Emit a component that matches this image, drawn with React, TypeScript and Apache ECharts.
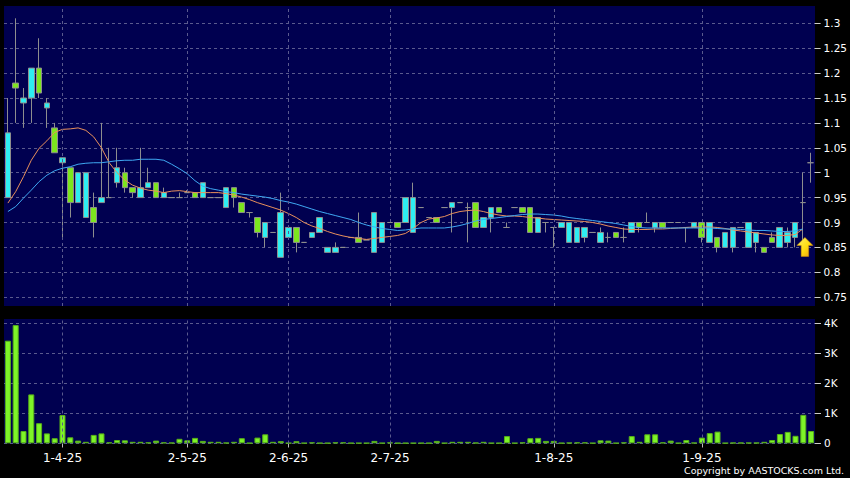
import React, { useEffect, useRef } from 'react';
import * as echarts from 'echarts';

const dates = [
  '21-3-25','24-3-25','25-3-25','26-3-25','27-3-25','28-3-25','31-3-25',
  '1-4-25','2-4-25','3-4-25','7-4-25','8-4-25','9-4-25','10-4-25','11-4-25','14-4-25','15-4-25','16-4-25','17-4-25','22-4-25','23-4-25','24-4-25','25-4-25',
  '2-5-25','6-5-25','7-5-25','8-5-25','9-5-25','12-5-25','13-5-25','14-5-25','16-5-25','19-5-25','21-5-25','23-5-25','27-5-25',
  '2-6-25','3-6-25','4-6-25','5-6-25','6-6-25','9-6-25','11-6-25','13-6-25','16-6-25','18-6-25','20-6-25','24-6-25','27-6-25',
  '2-7-25','3-7-25','4-7-25','7-7-25','8-7-25','9-7-25','10-7-25','11-7-25','14-7-25','15-7-25','16-7-25','17-7-25','18-7-25','21-7-25','22-7-25','23-7-25','24-7-25','25-7-25','28-7-25','29-7-25','30-7-25',
  '1-8-25','4-8-25','5-8-25','6-8-25','7-8-25','8-8-25','11-8-25','12-8-25','13-8-25','14-8-25','15-8-25','18-8-25','19-8-25','20-8-25','21-8-25','22-8-25','26-8-25','27-8-25','28-8-25',
  '1-9-25','2-9-25','3-9-25','4-9-25','5-9-25','8-9-25','9-9-25','10-9-25','11-9-25','12-9-25','15-9-25','16-9-25','17-9-25','18-9-25','19-9-25',
];

const tickLabels = ['1-4-25', '2-5-25', '2-6-25', '2-7-25', '1-8-25', '1-9-25'];

const openPrices = [
  0.95,1.18,1.14,1.15,1.21,1.13,1.09,1.02,1.01,0.94,
  0.91,0.93,0.94,0.95,0.98,1.00,0.97,0.95,0.97,0.98,
  0.95,0.95,0.95,0.96,0.96,0.95,0.95,0.95,0.93,0.97,
  0.94,0.92,0.91,0.87,0.88,0.83,0.87,0.89,0.86,0.87,
  0.88,0.84,0.84,0.85,0.87,0.87,0.865,0.84,0.86,0.90,
  0.90,0.90,0.88,0.93,0.91,0.91,0.93,0.93,0.94,0.93,
  0.94,0.89,0.91,0.93,0.89,0.93,0.93,0.93,0.88,0.90,
  0.89,0.89,0.86,0.86,0.87,0.88,0.86,0.87,0.88,0.87,
  0.88,0.90,0.90,0.89,0.90,0.90,0.90,0.89,0.89,0.90,
  0.86,0.87,0.85,0.85,0.89,0.85,0.86,0.85,0.87,0.85,
  0.86,0.87,0.94,1.02,
];

const closePrices = [
  1.08,1.17,1.15,1.21,1.16,1.14,1.04,1.03,0.94,1.00,
  1.00,0.90,0.95,0.95,1.01,0.97,0.96,0.97,0.98,0.95,
  0.96,0.95,0.95,0.96,0.95,0.98,0.95,0.95,0.97,0.95,
  0.92,0.92,0.88,0.90,0.88,0.92,0.89,0.86,0.86,0.88,
  0.91,0.85,0.85,0.85,0.87,0.86,0.865,0.92,0.90,0.90,
  0.89,0.95,0.95,0.93,0.91,0.90,0.93,0.94,0.94,0.93,
  0.89,0.91,0.93,0.92,0.89,0.93,0.92,0.88,0.91,0.90,
  0.89,0.90,0.90,0.89,0.89,0.88,0.88,0.87,0.87,0.87,
  0.90,0.89,0.90,0.90,0.89,0.90,0.90,0.89,0.90,0.87,
  0.90,0.85,0.88,0.89,0.89,0.90,0.88,0.84,0.86,0.89,
  0.88,0.90,0.94,1.02,
];

const lowPrices = [
  0.95,1.10,1.09,1.10,1.15,1.09,1.04,0.87,0.91,0.94,
  0.91,0.87,0.94,0.95,0.97,0.96,0.95,0.95,0.97,0.95,
  0.95,0.95,0.95,0.96,0.95,0.95,0.95,0.95,0.93,0.93,
  0.92,0.91,0.87,0.85,0.88,0.83,0.87,0.84,0.86,0.87,
  0.88,0.84,0.84,0.85,0.87,0.86,0.865,0.84,0.86,0.90,
  0.89,0.90,0.88,0.93,0.91,0.90,0.93,0.88,0.94,0.86,
  0.89,0.89,0.88,0.92,0.89,0.93,0.92,0.88,0.88,0.88,
  0.85,0.89,0.86,0.86,0.86,0.88,0.86,0.86,0.87,0.86,
  0.88,0.88,0.90,0.88,0.89,0.90,0.90,0.86,0.89,0.86,
  0.86,0.84,0.85,0.84,0.89,0.85,0.84,0.84,0.86,0.85,
  0.85,0.85,0.85,0.98,
];

const highPrices = [
  1.15,1.31,1.17,1.21,1.27,1.15,1.10,1.03,1.01,1.00,
  1.00,0.96,1.10,1.05,1.05,1.01,0.97,1.05,1.01,0.98,
  0.97,0.95,0.96,0.965,0.96,0.98,0.95,0.95,0.97,0.97,
  0.94,0.92,0.91,0.90,0.88,0.96,0.89,0.89,0.86,0.88,
  0.91,0.85,0.86,0.85,0.87,0.92,0.865,0.92,0.90,0.90,
  0.90,0.95,0.98,0.93,0.91,0.91,0.93,0.94,0.94,0.94,
  0.94,0.91,0.93,0.93,0.90,0.93,0.93,0.93,0.91,0.90,
  0.89,0.90,0.90,0.89,0.89,0.88,0.89,0.88,0.88,0.89,
  0.90,0.90,0.92,0.90,0.90,0.90,0.90,0.89,0.90,0.90,
  0.90,0.87,0.88,0.89,0.89,0.90,0.88,0.85,0.88,0.89,
  0.89,0.90,1.00,1.04,
];

const volumes = [
  3420,3940,410,1630,670,330,170,940,200,90,
  50,280,330,30,110,100,50,50,30,90,
  30,20,150,100,180,80,50,50,20,50,
  170,10,190,300,50,70,10,70,10,30,
  10,10,30,30,10,10,10,80,10,30,
  10,10,10,10,10,80,10,50,50,50,
  20,50,10,10,240,10,30,170,180,80,
  80,10,20,30,30,10,100,90,10,30,
  240,50,300,300,30,90,10,110,20,190,
  340,390,10,20,20,20,20,50,110,310,
  380,250,950,410,
];

const maShort = [
  0.939,0.962,0.992,1.025,1.049,1.064,1.081,1.087,1.088,1.09,
  1.085,1.072,1.05,1.02,1.0,0.985,0.975,0.969,0.965,0.963,
  0.96,0.963,0.964,0.962,0.96,0.96,0.96,0.96,0.958,0.955,
  0.951,0.946,0.94,0.935,0.93,0.925,0.918,0.91,0.9,0.893,
  0.888,0.882,0.877,0.873,0.87,0.868,0.866,0.868,0.87,0.872,
  0.874,0.878,0.888,0.9,0.907,0.909,0.912,0.918,0.922,0.924,
  0.925,0.922,0.918,0.915,0.913,0.913,0.912,0.91,0.909,0.907,
  0.906,0.905,0.904,0.903,0.902,0.9,0.897,0.893,0.89,0.887,
  0.886,0.886,0.886,0.887,0.887,0.888,0.889,0.89,0.891,0.891,
  0.891,0.89,0.888,0.885,0.883,0.881,0.879,0.877,0.875,0.874,
  0.874,0.876,0.887,'-',
];

const maLong = [
  0.922,0.932,0.949,0.965,0.982,0.995,1.004,1.009,1.012,1.017,
  1.019,1.02,1.02,1.022,1.024,1.025,1.025,1.027,1.027,1.027,
  1.025,1.017,1.008,0.998,0.984,0.973,0.968,0.965,0.962,0.96,
  0.957,0.955,0.953,0.951,0.948,0.944,0.941,0.937,0.932,0.927,
  0.922,0.918,0.914,0.91,0.906,0.9,0.895,0.891,0.888,0.886,
  0.884,0.885,0.887,0.889,0.889,0.889,0.889,0.891,0.894,0.898,
  0.903,0.906,0.908,0.91,0.912,0.914,0.916,0.917,0.917,0.916,
  0.915,0.913,0.91,0.908,0.906,0.904,0.902,0.9,0.898,0.895,
  0.892,0.89,0.889,0.889,0.889,0.889,0.889,0.889,0.889,0.889,
  0.889,0.888,0.887,0.887,0.886,0.885,0.884,0.884,0.883,0.882,
  0.882,0.883,0.887,'-',
];

const arrowIndex = 102;
const arrowValue = 0.851;

const NAVY = '#000050';
const GRID_LINE = '#5A5A8E';
const FONT = 'DejaVu Sans';

const isTick = (_i: number, v: string) => tickLabels.includes(v);

function buildOption() {
  const candleData = dates.map((_, i) => [openPrices[i], closePrices[i], lowPrices[i], highPrices[i]]);
  const vLines = tickLabels.map((d) => ({ xAxis: d }));
  const markLine = {
    silent: true,
    symbol: ['none', 'none'],
    label: { show: false },
    lineStyle: { color: GRID_LINE, type: [3, 3], width: 1 },
    data: vLines,
  };
  const hiddenCat = (gridIndex: number) => ({
    type: 'category',
    gridIndex,
    data: dates,
    boundaryGap: true,
    axisLine: { show: false },
    axisTick: { show: false },
    axisLabel: { show: false },
    splitLine: { show: false },
  });
  return {
    animation: false,
    backgroundColor: '#000000',
    grid: [
      { left: 4, right: 35, top: 23.3, height: 273.9 },
      { left: 4, right: 35, top: 323.3, height: 120 },
      { left: 4, right: 35, top: 6, height: 300, show: true, backgroundColor: NAVY, borderWidth: 0, z: -1 },
      { left: 4, right: 35, top: 319, height: 124.5, show: true, backgroundColor: NAVY, borderWidth: 0, z: -1 },
    ],
    xAxis: [
      hiddenCat(0),
      hiddenCat(1),
      hiddenCat(2),
      {
        type: 'category',
        gridIndex: 3,
        data: dates,
        boundaryGap: true,
        axisLine: { show: false },
        axisTick: {
          show: true,
          interval: isTick,
          alignWithLabel: true,
          length: 4,
          lineStyle: { color: '#BBBBBB' },
        },
        axisLabel: {
          interval: isTick,
          color: '#FFFFFF',
          fontFamily: FONT,
          fontSize: 12,
          margin: 8,
        },
        splitLine: { show: false },
      },
    ],
    yAxis: [
      {
        type: 'value',
        gridIndex: 0,
        position: 'right',
        min: 0.75,
        max: 1.3,
        interval: 0.05,
        axisLine: { show: false },
        axisTick: { show: true, length: 6, lineStyle: { color: '#CCCCCC' } },
        axisLabel: {
          color: '#FFFFFF',
          fontFamily: FONT,
          fontSize: 10.5,
          margin: 9,
          formatter: (v: number) => String(+v.toFixed(2)),
        },
        splitLine: { show: true, lineStyle: { color: GRID_LINE, type: [3, 3], width: 1 } },
      },
      {
        type: 'value',
        gridIndex: 1,
        position: 'right',
        min: 0,
        max: 4000,
        interval: 1000,
        axisLine: { show: false },
        axisTick: { show: true, length: 6, lineStyle: { color: '#CCCCCC' } },
        axisLabel: {
          color: '#FFFFFF',
          fontFamily: FONT,
          fontSize: 10.5,
          margin: 9,
          formatter: (v: number) => (v === 0 ? '0' : v / 1000 + 'K'),
        },
        splitLine: { show: true, lineStyle: { color: GRID_LINE, type: [3, 3], width: 1 } },
      },
      { type: 'value', gridIndex: 2, min: 0, max: 1, show: false, splitLine: { show: false } },
      { type: 'value', gridIndex: 3, min: 0, max: 1, show: false, splitLine: { show: false } },
    ],
    series: [
      {
        type: 'line',
        xAxisIndex: 2,
        yAxisIndex: 2,
        data: dates.map(() => '-'),
        symbol: 'none',
        silent: true,
        markLine,
      },
      {
        type: 'line',
        xAxisIndex: 3,
        yAxisIndex: 3,
        data: dates.map(() => '-'),
        symbol: 'none',
        silent: true,
        markLine,
      },
      {
        type: 'candlestick',
        name: 'Price',
        xAxisIndex: 0,
        yAxisIndex: 0,
        data: candleData,
        barWidth: 6,
        clip: false,
        itemStyle: {
          color: '#2EEEF2',
          color0: '#7CE61E',
          borderColor: '#8E8E8E',
          borderColor0: '#8E8E8E',
          borderColorDoji: '#8E8E8E',
          borderWidth: 1,
        },
      },
      {
        type: 'line',
        name: 'MA short',
        xAxisIndex: 0,
        yAxisIndex: 0,
        data: maShort,
        symbol: 'none',
        lineStyle: { color: '#E8905C', width: 1 },
        z: 3,
      },
      {
        type: 'line',
        name: 'MA long',
        xAxisIndex: 0,
        yAxisIndex: 0,
        data: maLong,
        symbol: 'none',
        lineStyle: { color: '#3FA8F2', width: 1 },
        z: 3,
      },
      {
        type: 'scatter',
        xAxisIndex: 0,
        yAxisIndex: 0,
        data: [[dates[arrowIndex], arrowValue]],
        symbol: 'path://M7.5,0 L15,8 L11,8 L11,19 L4,19 L4,8 L0,8 Z',
        symbolSize: [16, 19],
        symbolOffset: [2, 0],
        clip: false,
        z: 4,
        itemStyle: {
          opacity: 1,
          color: new echarts.graphic.LinearGradient(0, 0, 1, 1, [
            { offset: 0, color: '#FFF36A' },
            { offset: 0.55, color: '#FFDC10' },
            { offset: 1, color: '#E89A10' },
          ]),
          borderColor: '#D89000',
          borderWidth: 0.5,
        },
      },
      {
        type: 'bar',
        name: 'Volume',
        xAxisIndex: 1,
        yAxisIndex: 1,
        data: volumes,
        barWidth: 6,
        itemStyle: { color: '#7EF428', borderColor: '#58B018', borderWidth: 1 },
      },
    ],
    graphic: [
      {
        type: 'text',
        right: 6,
        top: 465,
        style: {
          text: 'Copyright by AASTOCKS.com Ltd.',
          fill: '#FFFFFF',
          font: `9.5px "${FONT}"`,
        },
      },
    ],
  };
}

export default function App() {
  const ref = useRef<HTMLDivElement>(null);
  useEffect(() => {
    document.body.style.margin = '0';
    const chart = echarts.init(ref.current as HTMLDivElement, null, { renderer: 'svg' });
    chart.setOption(buildOption() as any);
    return () => chart.dispose();
  }, []);
  return <div ref={ref} style={{ width: 850, height: 478, background: '#000' }} />;
}
